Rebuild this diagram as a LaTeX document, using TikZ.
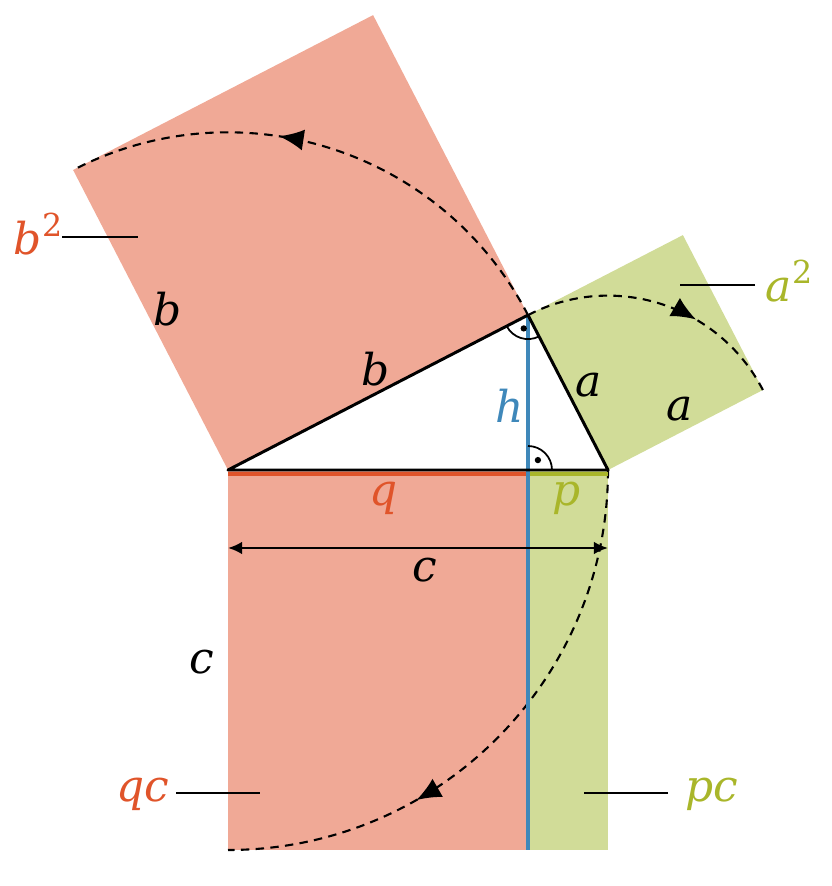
\documentclass[tikz,border=0pt]{standalone}
\usepackage{fontspec}
\setmainfont{DejaVu Serif}
\usepackage{tikz}
\usetikzlibrary{arrows.meta}
\usetikzlibrary{decorations.markings}
\usetikzlibrary{calc}
\definecolor{qfill}{HTML}{F0A996}
\definecolor{pfill}{HTML}{D1DC98}
\definecolor{qcol}{HTML}{E0542A}
\definecolor{pcol}{HTML}{A9B62A}
\definecolor{hcol}{HTML}{3F88BA}
\newcommand{\sq}{\raisebox{0.42em}{\fontsize{9}{10}\selectfont\upshape 2}}
\tikzset{lbl/.style={font=\fontsize{12.5}{14}\selectfont\itshape, inner sep=1pt}}
\tikzset{side/.style={line width=0.85pt, line join=round}}
\tikzset{pointer/.style={line width=0.6pt}}
\tikzset{turnarc/.style={line width=0.6pt, dash pattern=on 2.4pt off 1.8pt,
  postaction={decorate}, decoration={markings, mark=at position #1 with {\arrow{Latex[length=7pt,width=6pt]}}}},
  turnarc/.default=0.6}
\tikzset{rightmark/.style={line width=0.5pt}}

\begin{document}
\begin{tikzpicture}
\useasboundingbox (0,0) rectangle (8.31,8.86);
% corners of the triangle and the foot of h
\coordinate (A) at (2.28,4.16);
\coordinate (B) at (6.08,4.16);
\coordinate (H) at (5.28,4.16);
\coordinate (C) at (5.28,5.709);
\coordinate (D) at (2.28,0.36);
\coordinate (E) at (6.08,0.36);
\coordinate (F) at (5.28,0.36);
% outer corners of the squares on b and a
\coordinate (B1) at ($(A)!1!90:(C)$);
\coordinate (B2) at ($(C)!1!-90:(A)$);
\coordinate (A1) at ($(C)!1!90:(B)$);
\coordinate (A2) at ($(B)!1!-90:(C)$);
% squares
\fill[qfill] (A) -- (B1) -- (B2) -- (C) -- cycle;
\fill[pfill] (C) -- (A1) -- (A2) -- (B) -- cycle;
\fill[qfill] (A) -- (H) -- (F) -- (D) -- cycle;
\fill[pfill] (H) -- (B) -- (E) -- (F) -- cycle;
% turning arcs
\draw[turnarc=0.6] (C) arc[start angle=27.31, end angle=117.31, radius=3.376];
\draw[turnarc=0.64] (C) arc[start angle=117.31, end angle=27.31, radius=1.7436];
\draw[turnarc=0.67] (B) arc[start angle=0, end angle=-90, radius=3.80];
% q, p and h
\draw[line width=1.3pt, qcol] ([yshift=-1.2pt]A) -- ([yshift=-1.2pt]H);
\draw[line width=1.3pt, pcol] ([yshift=-1.2pt]H) -- ([yshift=-1.2pt]B);
\draw[line width=1.1pt, hcol] (C) -- (F);
% triangle
\draw[side] (A) -- (B) -- (C) -- cycle;
% right angles
\draw[rightmark] ($(C)+(207.31:0.24)$) arc[start angle=207.31, end angle=297.31, radius=0.24];
\fill ($(C)+(252.3:0.14)$) circle (0.9pt);
\draw[rightmark] ($(H)+(90:0.24)$) arc[start angle=90, end angle=0, radius=0.24];
\fill ($(H)+(45:0.14)$) circle (0.9pt);
% length c
\coordinate (cl) at (2.28,3.38);
\coordinate (cr) at (6.08,3.38);
\draw[line width=0.7pt, {Latex[length=4pt,width=3.6pt]}-{Latex[length=4pt,width=3.6pt]}] (cl) -- (cr);
% labels
\node[lbl] (cdim) at (4.25,3.16) {c};
\node[lbl] (cside) at (2.02,2.24) {c};
\node[lbl] (bside) at (1.68,5.77) {b};
\node[lbl] (bhyp) at (3.76,5.17) {b};
\node[lbl] (aleg) at (5.89,5.01) {a};
\node[lbl] (aside) at (6.80,4.77) {a};
\node[lbl, text=hcol] (hlbl) at (5.10,4.80) {h};
\node[lbl, text=qcol] (qlbl) at (3.84,3.88) {q};
\node[lbl, text=pcol] (plbl) at (5.67,3.88) {p};
\node[lbl, text=qcol] (bsq) at (0.38,6.52) {b\sq};
\node[lbl, text=pcol] (asq) at (7.89,6.05) {a\sq};
\node[lbl, text=qcol] (qc) at (1.43,0.92) {qc};
\node[lbl, text=pcol] (pc) at (7.12,0.92) {pc};
% pointers
\coordinate (bsqtip) at (1.38,6.49);
\coordinate (asqtip) at (6.80,6.01);
\coordinate (qctip) at (2.60,0.93);
\coordinate (pctip) at (5.84,0.93);
\draw[pointer] (0.62,6.49) -- (bsqtip);
\draw[pointer] (7.55,6.01) -- (asqtip);
\draw[pointer] (1.76,0.93) -- (qctip);
\draw[pointer] (6.68,0.93) -- (pctip);
\end{tikzpicture}
\end{document}
